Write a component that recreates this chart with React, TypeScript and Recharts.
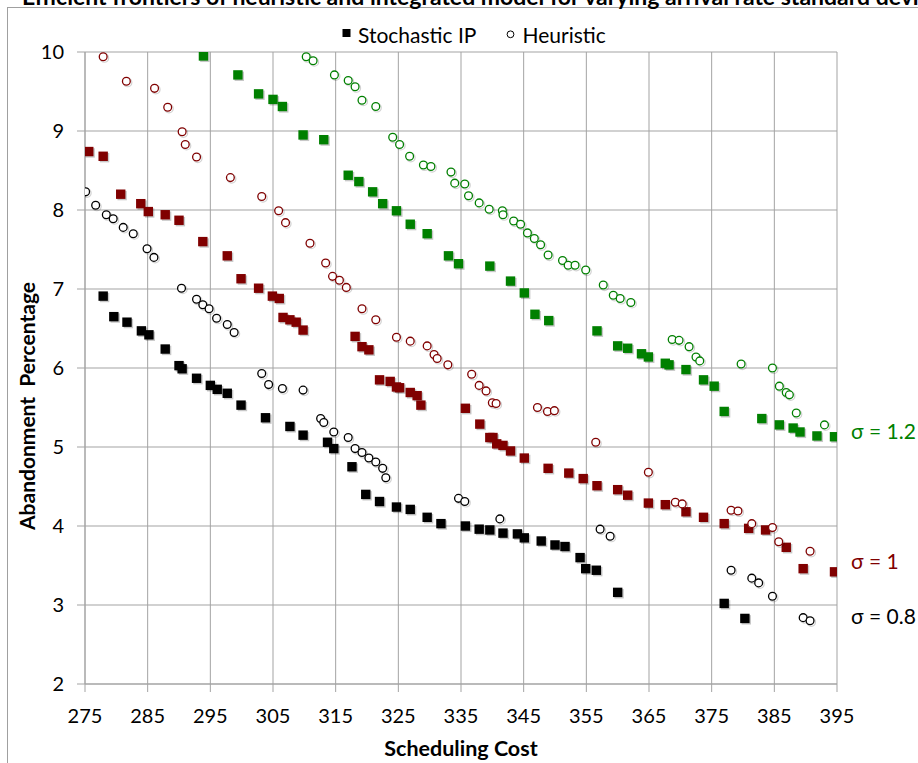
import React from "react";
import {
  ScatterChart,
  Scatter,
  XAxis,
  YAxis,
  CartesianGrid,
  Legend,
} from "recharts";

// [scheduling cost, abandonment %]
const ip08: number[][] = [
  [277.9, 6.91], [279.6, 6.65], [281.7, 6.58], [284.0, 6.47], [285.2, 6.42],
  [287.8, 6.24], [290.0, 6.03], [290.5, 5.99], [292.8, 5.87], [295.0, 5.78],
  [296.1, 5.73], [297.7, 5.68], [299.9, 5.53], [303.8, 5.37], [307.7, 5.26],
  [309.8, 5.15], [313.7, 5.06], [314.7, 4.98], [317.6, 4.75], [319.8, 4.4],
  [322.0, 4.31], [324.7, 4.24], [326.9, 4.21], [329.6, 4.11], [331.8, 4.03],
  [335.7, 4.0], [337.9, 3.96], [339.6, 3.95], [341.7, 3.91], [344.0, 3.9],
  [345.1, 3.85], [347.8, 3.81], [350.0, 3.76], [351.6, 3.74], [354.0, 3.6],
  [354.9, 3.46], [356.6, 3.44], [360.0, 3.16], [377.0, 3.02], [380.3, 2.83],
];

const heur08: number[][] = [
  [275.1, 8.23], [276.7, 8.06], [278.4, 7.94], [279.5, 7.89], [281.1, 7.78],
  [282.7, 7.7], [284.9, 7.51], [286.0, 7.4], [290.4, 7.01], [292.8, 6.87],
  [293.8, 6.8], [294.8, 6.75], [296.0, 6.63], [297.7, 6.55], [298.8, 6.45],
  [303.2, 5.93], [304.3, 5.79], [306.5, 5.74], [309.8, 5.72], [312.6, 5.36],
  [313.1, 5.31], [314.7, 5.19], [317.0, 5.12], [318.1, 4.98], [319.2, 4.93],
  [320.3, 4.86], [321.4, 4.81], [322.5, 4.73], [323.0, 4.61], [334.6, 4.35],
  [335.6, 4.31], [341.2, 4.09], [357.2, 3.96], [358.8, 3.87], [378.1, 3.44],
  [381.4, 3.34], [382.5, 3.28], [384.7, 3.11], [389.6, 2.84], [390.7, 2.8],
];

const ip10: number[][] = [
  [275.6, 8.74], [277.9, 8.68], [280.7, 8.2], [283.9, 8.08], [285.1, 7.98],
  [287.8, 7.94], [290.0, 7.87], [293.8, 7.6], [297.7, 7.42], [299.9, 7.13],
  [302.7, 7.01], [304.9, 6.91], [306.0, 6.88], [306.6, 6.64], [307.7, 6.61],
  [308.7, 6.58], [309.8, 6.48], [318.1, 6.4], [319.2, 6.27], [320.3, 6.23],
  [322.0, 5.85], [323.7, 5.83], [324.7, 5.76], [325.2, 5.75], [326.9, 5.69],
  [328.0, 5.65], [328.6, 5.53], [335.7, 5.49], [338.0, 5.29], [339.6, 5.12],
  [340.1, 5.12], [340.7, 5.04], [341.7, 5.02], [342.9, 4.95], [345.1, 4.86],
  [348.9, 4.73], [352.2, 4.67], [354.5, 4.6], [356.7, 4.51], [360.0, 4.46],
  [361.6, 4.39], [364.9, 4.29], [367.6, 4.27], [370.9, 4.18], [373.7, 4.11],
  [377.0, 4.03], [380.9, 3.97], [383.6, 3.95], [386.9, 3.73], [389.6, 3.46],
  [394.6, 3.42],
];

const heur10: number[][] = [
  [277.9, 9.94], [281.6, 9.63], [286.1, 9.54], [288.2, 9.3], [290.5, 8.99],
  [291.0, 8.83], [292.8, 8.67], [298.2, 8.41], [303.2, 8.17], [305.9, 7.99],
  [307.0, 7.84], [310.9, 7.58], [313.4, 7.33], [314.5, 7.16], [315.6, 7.11],
  [316.7, 7.02], [319.2, 6.75], [321.4, 6.61], [324.7, 6.39], [326.9, 6.34],
  [329.6, 6.28], [330.7, 6.17], [331.2, 6.12], [332.9, 6.04], [336.7, 5.92],
  [337.9, 5.78], [339.0, 5.71], [340.0, 5.56], [340.6, 5.55], [347.2, 5.5],
  [348.8, 5.45], [349.9, 5.46], [356.5, 5.06], [364.9, 4.68], [369.2, 4.3],
  [370.3, 4.28], [378.1, 4.2], [379.2, 4.19], [381.4, 4.03], [384.7, 3.98],
  [385.7, 3.8], [390.7, 3.68],
];

const ip12: number[][] = [
  [293.9, 9.95], [299.4, 9.71], [302.7, 9.47], [305.0, 9.4], [306.5, 9.31],
  [309.8, 8.95], [313.1, 8.89], [317.0, 8.44], [318.7, 8.36], [320.9, 8.23],
  [322.5, 8.08], [324.7, 7.99], [326.9, 7.82], [329.6, 7.7], [333.0, 7.42],
  [334.6, 7.32], [339.6, 7.29], [342.9, 7.1], [345.1, 6.95], [346.8, 6.68],
  [349.0, 6.6], [356.7, 6.47], [360.0, 6.28], [361.6, 6.25], [363.8, 6.18],
  [364.9, 6.14], [367.6, 6.06], [368.2, 6.04], [370.9, 5.98], [373.7, 5.85],
  [375.4, 5.77], [377.0, 5.45], [383.0, 5.36], [385.8, 5.28], [388.0, 5.24],
  [389.1, 5.19], [391.8, 5.14], [394.6, 5.13],
];

const heur12: number[][] = [
  [310.3, 9.94], [311.4, 9.89], [314.8, 9.71], [317.0, 9.64], [318.1, 9.56],
  [319.2, 9.39], [321.4, 9.31], [324.1, 8.92], [325.2, 8.83], [326.8, 8.68],
  [329.0, 8.57], [330.2, 8.55], [333.4, 8.48], [334.0, 8.34], [335.6, 8.33],
  [336.2, 8.18], [337.9, 8.09], [339.5, 8.01], [341.6, 7.99], [341.7, 7.94],
  [343.4, 7.86], [344.5, 7.82], [345.6, 7.71], [346.7, 7.64], [347.7, 7.56],
  [348.9, 7.43], [351.2, 7.36], [352.1, 7.3], [353.2, 7.3], [354.9, 7.24],
  [357.7, 7.05], [359.3, 6.92], [360.4, 6.88], [362.1, 6.83], [368.7, 6.36],
  [369.8, 6.35], [371.4, 6.27], [372.5, 6.14], [373.1, 6.09], [379.7, 6.05],
  [384.7, 6.0], [385.8, 5.77], [386.9, 5.69], [387.4, 5.66], [388.5, 5.43],
  [393.0, 5.28],
];

const xTicks = [275, 285, 295, 305, 315, 325, 335, 345, 355, 365, 375, 385, 395];
const yTicks = [2, 3, 4, 5, 6, 7, 8, 9, 10];

const BLACK = "#000000";
const RED = "#800000";
const GREEN = "#008000";
const GRID = "#a3a3a3";
const FONT = "Lato, 'Open Sans', sans-serif";

const toPoints = (arr: number[][]) => arr.map(([x, y]) => ({ x, y }));

const squareShape = (color: string) => (props: any) => {
  const { cx, cy } = props;
  const s = 9.4;
  return (
    <g>
      <rect x={cx - s / 2 + 1.4} y={cy - s / 2 + 1.4} width={s} height={s} fill="rgba(0,0,0,0.22)" />
      <rect x={cx - s / 2} y={cy - s / 2} width={s} height={s} fill={color} />
    </g>
  );
};

const circleShape = (color: string) => (props: any) => {
  const { cx, cy } = props;
  return (
    <g>
      <circle cx={cx + 1.2} cy={cy + 1.2} r={4.3} fill="none" stroke="rgba(0,0,0,0.18)" strokeWidth={1.2} />
      <circle cx={cx} cy={cy} r={3.9} fill="#fff" stroke={color} strokeWidth={1.3} />
    </g>
  );
};

const LegendBox = () => (
  <svg width={918} height={50} style={{ display: "block" }}>
    <rect x={342.5} y={29} width={8} height={8} fill="#000" />
    <text x={358} y={43} fontSize={21} fontFamily={FONT} fill="#000">
      Stochastic IP
    </text>
    <circle cx={510.5} cy={34.3} r={3.4} fill="#fff" stroke="#000" strokeWidth={1} />
    <text x={522.5} y={43} fontSize={21} fontFamily={FONT} fill="#000">
      Heuristic
    </text>
  </svg>
);

export default function App() {
  const tickStyle = { fill: "#000", fontSize: 20, fontFamily: FONT };
  return (
    <div
      style={{
        position: "absolute",
        left: 0,
        top: 0,
        width: 918,
        height: 763,
        overflow: "hidden",
        background: "#fff",
      }}
    >
      <ScatterChart
        width={918}
        height={763}
        margin={{ top: 52, right: 81, bottom: 29, left: 15 }}
      >
        <CartesianGrid stroke={GRID} strokeWidth={1} />
        <XAxis
          type="number"
          dataKey="x"
          domain={[275, 395]}
          ticks={xTicks}
          interval={0}
          height={50}
          allowDataOverflow
          stroke={GRID}
          tickSize={8}
          tickMargin={17}
          tick={tickStyle}
          tickLine={{ stroke: GRID }}
        />
        <YAxis
          type="number"
          dataKey="y"
          domain={[2, 10]}
          ticks={yTicks}
          interval={0}
          width={70}
          allowDataOverflow
          stroke={GRID}
          tickSize={8}
          tickMargin={13}
          tick={tickStyle}
          tickLine={{ stroke: GRID }}
        />
        <Legend
          layout="horizontal"
          verticalAlign="middle"
          align="center"
          wrapperStyle={{ position: "absolute", top: 0, left: 0, width: 918, height: 50 }}
          content={() => <LegendBox />}
        />
        <Scatter name="Stochastic IP σ=0.8" data={toPoints(ip08)} shape={squareShape(BLACK)} isAnimationActive={false} />
        <Scatter name="Heuristic σ=0.8" data={toPoints(heur08)} shape={circleShape(BLACK)} isAnimationActive={false} />
        <Scatter name="Stochastic IP σ=1" data={toPoints(ip10)} shape={squareShape(RED)} isAnimationActive={false} />
        <Scatter name="Heuristic σ=1" data={toPoints(heur10)} shape={circleShape(RED)} isAnimationActive={false} />
        <Scatter name="Stochastic IP σ=1.2" data={toPoints(ip12)} shape={squareShape(GREEN)} isAnimationActive={false} />
        <Scatter name="Heuristic σ=1.2" data={toPoints(heur12)} shape={circleShape(GREEN)} isAnimationActive={false} />
      </ScatterChart>
      <svg
        width={918}
        height={763}
        style={{ position: "absolute", left: 0, top: 0, pointerEvents: "none" }}
      >
        <rect x={7.5} y={7.5} width={940} height={780} fill="none" stroke="#a0a0a0" strokeWidth={1} />
        <text x={22} y={5} fontSize={23} fontWeight="bold" fontFamily={FONT} fill="#000">
          Efficient frontiers of heuristic and integrated model for varying arrival rate standard deviation
        </text>
        <text x={461} y={756} textAnchor="middle" fontSize={21.5} fontWeight="bold" fontFamily={FONT} fill="#000">
          Scheduling Cost
        </text>
        <text
          transform="translate(35, 406) rotate(-90)"
          textAnchor="middle"
          fontSize={21}
          fontWeight="bold"
          fontFamily={FONT}
          fill="#000"
          style={{ whiteSpace: "pre" }}
        >
          {"Abandonment  Percentage"}
        </text>
        <text x={851} y={439} fontSize={21} fontFamily={FONT} fill={GREEN}>
          σ = 1.2
        </text>
        <text x={851} y={569} fontSize={21} fontFamily={FONT} fill={RED}>
          σ = 1
        </text>
        <text x={851} y={624} fontSize={21} fontFamily={FONT} fill={BLACK}>
          σ = 0.8
        </text>
      </svg>
    </div>
  );
}
